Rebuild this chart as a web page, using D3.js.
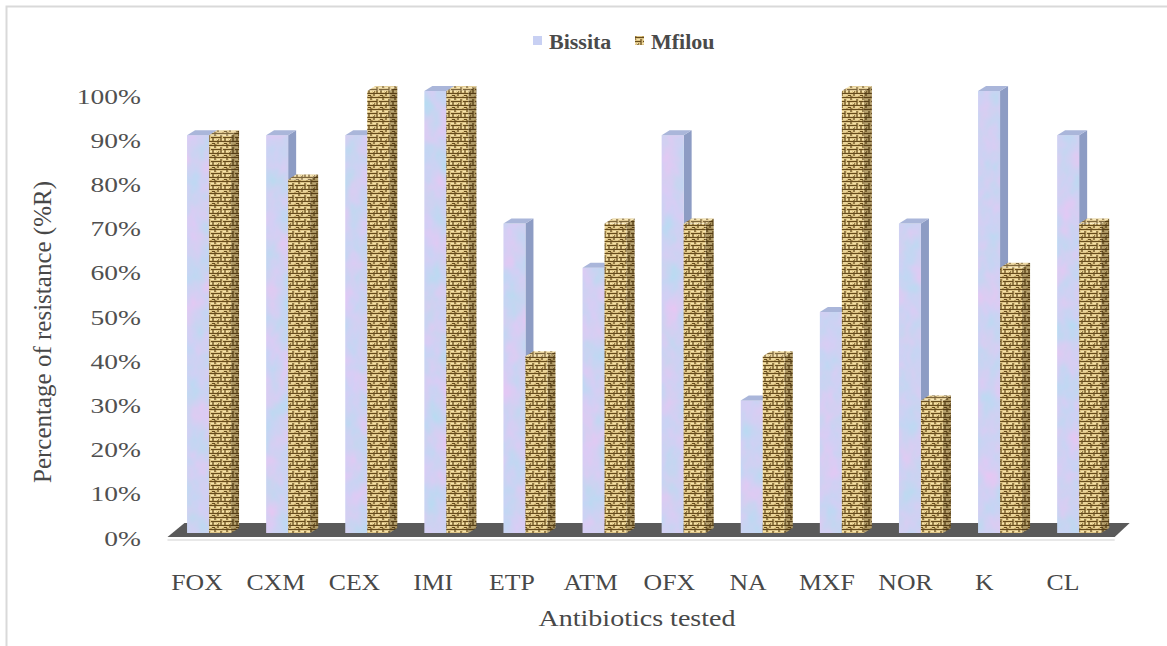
<!DOCTYPE html>
<html>
<head>
<meta charset="utf-8">
<script src="https://cdn.jsdelivr.net/npm/d3@7/dist/d3.min.js"></script>
<style>
  html, body { margin: 0; padding: 0; background: #fff; }
  svg { display: block; }
</style>
</head>
<body>
<svg id="chart" width="1167" height="646"></svg>
<script>
// Antibiotic resistance by site
const categories = ["FOX", "CXM", "CEX", "IMI", "ETP", "ATM", "OFX", "NA", "MXF", "NOR", "K", "CL"];
const bissita = [90, 90, 90, 100, 70, 60, 90, 30, 50, 70, 100, 90];
const mfilou  = [90, 80, 100, 100, 40, 70, 70, 40, 100, 30, 60, 70];
const seriesNames = ["Bissita", "Mfilou"];
const tickValues = [0, 10, 20, 30, 40, 50, 60, 70, 80, 90, 100];

const W = 1167, H = 646;
const FONT = "'Liberation Serif', 'Times New Roman', serif";
const TEXT = "#484848";

const svg = d3.select("#chart");
const defs = svg.append("defs");

// mottled lavender texture for the Bissita columns
const marble = defs.append("filter").attr("id", "marble")
  .attr("x", 0).attr("y", 0).attr("width", 1).attr("height", 1)
  .attr("color-interpolation-filters", "sRGB");
marble.append("feTurbulence").attr("type", "fractalNoise")
  .attr("baseFrequency", "0.05 0.035").attr("numOctaves", 3).attr("seed", 7).attr("result", "noise");
marble.append("feColorMatrix").attr("in", "noise").attr("type", "matrix")
  .attr("values", [
    0.2, -0.08, 0, 0, 0.75,
    -0.09, 0.03, 0, 0, 0.85,
    0.02, 0.02, 0, 0, 0.93,
    0, 0, 0, 0, 1].join(" "))
  .attr("result", "tint");
marble.append("feComposite").attr("in", "tint").attr("in2", "SourceGraphic").attr("operator", "in");

// woven basket texture for the Mfilou columns
const weave = defs.append("pattern").attr("id", "weave")
  .attr("patternUnits", "userSpaceOnUse").attr("width", 12).attr("height", 12);
weave.append("rect").attr("width", 12).attr("height", 12).attr("fill", "#dec586");
weave.append("path")
  .attr("d", "M0 1.5h12 M0 5.5h5 M7 5.5h5 M0 9.5h12 M5 3v6 M11 0v4 M2 7v5 M9 6v3.5 M8 11.5h3")
  .attr("stroke", "#664c1d").attr("stroke-width", 1.2).attr("fill", "none");
weave.append("path")
  .attr("d", "M1 3.5h3 M7 3.5h3 M1 7.5h1 M6 7.5h2 M10 7.5h2 M3 11h4")
  .attr("stroke", "#f6e4ad").attr("stroke-width", 1.1).attr("fill", "none");
weave.append("path")
  .attr("d", "M7 0v1 M0 0v1")
  .attr("stroke", "#9c7a36").attr("stroke-width", 1).attr("fill", "none");

const soft = defs.append("filter").attr("id", "soft");
soft.append("feGaussianBlur").attr("stdDeviation", 0.4);

// outer frame
svg.append("rect")
  .attr("x", 6.5).attr("y", 6.5).attr("width", W).attr("height", H)
  .attr("fill", "none").attr("stroke", "#d9d9d9").attr("stroke-width", 2);

// scales
const x = d3.scaleBand().domain(categories).range([169.5, 1118.7]);
const y = d3.scaleLinear().domain([0, 100]).range([533, 91]);
const yLabel = d3.scaleLinear().domain([0, 100]).range([538, 96]);
const xLabel = d3.scalePoint().domain(categories).range([197, 1063]);

const barW = 22, dx = 8, dy = 5;
const base = y(0);

// floor
const floorFront = 537, floorBack = 523;
svg.append("path")
  .attr("d", `M${x.range()[0] - 2},${floorFront} L${x.range()[0] + 15},${floorBack} L${x.range()[1] + 11},${floorBack} L${x.range()[1] - 4},${floorFront} Z`)
  .attr("fill", "#5a5a5a");
svg.append("line")
  .attr("x1", x.range()[0] - 2).attr("x2", x.range()[1] - 4)
  .attr("y1", floorFront + 3).attr("y2", floorFront + 3)
  .attr("stroke", "#e8e8e8").attr("stroke-width", 2);

const rows = categories.map((c, i) => ({ c, b: bissita[i], m: mfilou[i] }));

const groups = svg.append("g").attr("filter", "url(#soft)")
  .selectAll("g.cat").data(rows).join("g").attr("class", "cat");

function drawColumn(g, x0, v, kind) {
  const x1 = x0 + barW, yt = y(v);
  // side face
  const side = `M${x1},${yt} L${x1 + dx},${yt - dy} L${x1 + dx},${base - dy} L${x1},${base} Z`;
  g.append("path").attr("d", side).attr("fill", kind === "b" ? "#8d9cc4" : "url(#weave)");
  if (kind === "m") g.append("path").attr("d", side).attr("fill", "#2a1a00").attr("opacity", 0.3);
  // front face
  if (kind === "b") {
    g.append("rect").attr("x", x0).attr("y", yt).attr("width", barW).attr("height", base - yt)
      .attr("fill", "#c9d2f2").attr("filter", "url(#marble)");
  } else {
    g.append("rect").attr("x", x0).attr("y", yt).attr("width", barW).attr("height", base - yt)
      .attr("fill", "url(#weave)");
  }
  // top face
  const top = `M${x0},${yt} L${x0 + dx},${yt - dy} L${x1 + dx},${yt - dy} L${x1},${yt} Z`;
  g.append("path").attr("d", top).attr("fill", kind === "b" ? "#aab6da" : "url(#weave)");
  if (kind === "m") g.append("path").attr("d", top).attr("fill", "#fff").attr("opacity", 0.15);
}

groups.each(function (d) {
  const g = d3.select(this);
  const mid = x(d.c) + x.bandwidth() / 2;
  drawColumn(g, mid - barW, d.b, "b");
  drawColumn(g, mid, d.m, "m");
});

// y axis labels
const axisG = svg.append("g").attr("transform", "translate(141,0) scale(1.25,1)")
  .call(d3.axisLeft(yLabel).tickValues(tickValues).tickFormat(d => d + "%").tickSize(0).tickPadding(0));
axisG.select(".domain").remove();
axisG.selectAll("text").attr("font-family", FONT).attr("font-size", 22).attr("fill", "#505050");

// category labels
svg.append("g").selectAll("text").data(categories).join("text")
  .attr("transform", d => `translate(${xLabel(d)},590) scale(1.12,1)`)
  .attr("text-anchor", "middle")
  .attr("font-family", FONT).attr("font-size", 23).attr("fill", TEXT)
  .text(d => d);

// axis titles
svg.append("text")
  .attr("transform", "translate(637,626) scale(1.22,1)")
  .attr("text-anchor", "middle")
  .attr("font-family", FONT).attr("font-size", 23).attr("fill", TEXT)
  .text("Antibiotics tested");

svg.append("text")
  .attr("transform", "translate(45,332) rotate(-90)")
  .attr("text-anchor", "middle").attr("dominant-baseline", "middle")
  .attr("font-family", FONT).attr("font-size", 25).attr("fill", TEXT)
  .text("Percentage of resistance (%R)");

// legend
const legendItems = [
  { name: seriesNames[0], sx: 533, tx: 549, fill: "#c8d0f3" },
  { name: seriesNames[1], sx: 635, tx: 651, fill: "url(#weave)" }
];
const lg = svg.append("g").selectAll("g").data(legendItems).join("g");
lg.append("rect").attr("x", d => d.sx).attr("y", 36).attr("width", 9).attr("height", 9)
  .attr("fill", d => d.fill);
lg.append("text")
  .attr("transform", d => `translate(${d.tx},49) scale(1.1,1)`)
  .attr("font-family", FONT).attr("font-size", 20).attr("font-weight", "bold").attr("fill", "#4a4a4a")
  .text(d => d.name);
</script>
</body>
</html>
